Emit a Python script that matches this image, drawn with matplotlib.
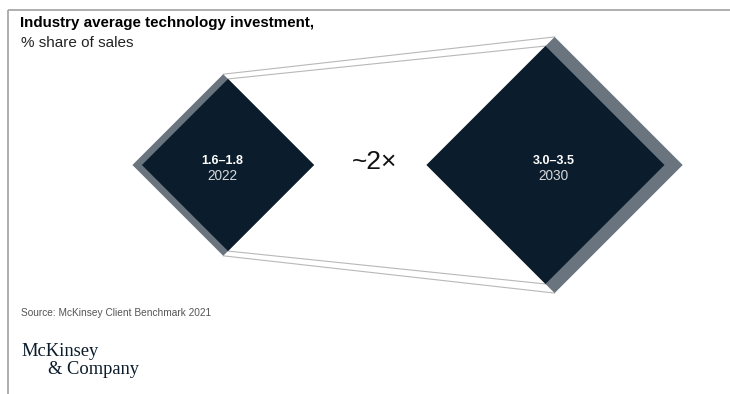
import numpy as np
import matplotlib.pyplot as plt
from matplotlib.patches import Polygon

# Data: technology investment, % share of sales
years = ["2022", "2030"]
range_low = [1.6, 3.0]
range_high = [1.8, 3.5]
growth_label = "~2\u00d7"

mids = (np.array(range_low) + np.array(range_high)) / 2
labels = [f"{lo:.1f}\u2013{hi:.1f}" for lo, hi in zip(range_low, range_high)]

navy = "#0b1c2c"
slate = "#69747e"

fig = plt.figure(figsize=(7.3, 3.94), dpi=100)
ax = fig.add_axes([0, 0, 1, 1])
ax.set_xlim(0, 730)
ax.set_ylim(394, 0)
ax.axis("off")

# frame lines (top + left)
ax.plot([8, 730], [10, 10], color="#a8a8a8", lw=1.3, solid_capstyle="butt")
ax.plot([8, 8], [10, 394], color="#a8a8a8", lw=1.3, solid_capstyle="butt")

# diamond geometry: area proportional to value
scale = 66
centers_x = [228, 545.5]
cy = 165
sides = [-1, 1]  # side of the shaded face
tops, bots = [], []
for i in range(2):
    h = scale * np.sqrt(mids[i])
    depth = 5.6 * mids[i]
    cx = centers_x[i]
    s = sides[i]
    gcx = cx + s * depth / 2
    gh = h + depth / 2
    ax.add_patch(Polygon([(gcx, cy - gh), (gcx + gh, cy), (gcx, cy + gh), (gcx - gh, cy)],
                         closed=True, facecolor=slate, edgecolor="none", zorder=2))
    ax.add_patch(Polygon([(cx, cy - h), (cx + h, cy), (cx, cy + h), (cx - h, cy)],
                         closed=True, facecolor=navy, edgecolor="none", zorder=3))
    tops.append(((gcx, cy - gh), (cx, cy - h)))
    bots.append(((gcx, cy + gh), (cx, cy + h)))
    ax.text(gcx - 1, cy - 4, labels[i], color="white", fontsize=9, fontweight="bold",
            ha="center", va="center", family="Liberation Sans", zorder=4)
    ax.text(gcx - 1, cy + 11, years[i], color="#d5d8dc", fontsize=9.8,
            ha="center", va="center", family="Liberation Sans", zorder=4)

# connector lines between the diamonds
for pts in (tops, bots):
    for k in range(2):
        ax.plot([pts[0][k][0], pts[1][k][0]], [pts[0][k][1], pts[1][k][1]],
                color="#b8b8b8", lw=0.8, zorder=1)

ax.text(375, 162, growth_label, fontsize=19, ha="center", va="center",
        color="#111111", family="Liberation Sans")

# titles
ax.text(20, 23, "Industry average technology investment,", fontsize=10.9,
        fontweight="bold", ha="left", va="center", family="Liberation Sans", color="black")
ax.text(21, 43, "% share of sales", fontsize=11, ha="left", va="center",
        family="Liberation Sans", color="#222222")

# footer
ax.text(21, 313, "Source: McKinsey Client Benchmark 2021", fontsize=7.3, ha="left",
        va="center", family="Liberation Sans", color="#555555")
ax.text(21, 351, "McKinsey", fontsize=13.3, ha="left", va="center",
        family="Liberation Serif", color="#0b1c2c")
ax.text(48, 369, "& Company", fontsize=13.3, ha="left", va="center",
        family="Liberation Serif", color="#0b1c2c")

fig.savefig("out.png", dpi=100)
